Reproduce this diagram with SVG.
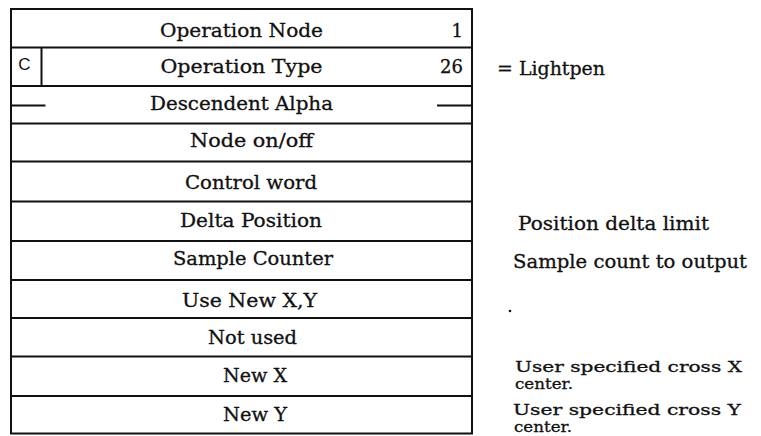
<svg xmlns="http://www.w3.org/2000/svg" width="761" height="436" viewBox="0 0 761 436">
<style>
.t{font-family:"DejaVu Serif","Liberation Serif",serif;font-size:18px;fill:#111;stroke:#111;stroke-width:0.3;}
.s{font-size:15px;}
.c{text-anchor:middle;}
.r{text-anchor:end;}
.ln{stroke:#111;stroke-width:2;fill:none;}
</style>
<rect width="761" height="436" fill="#fff"/>
<g id="frame">
<rect class="ln" x="11" y="9" width="461" height="424.5"/>
</g>
<g id="connectors">
<line class="ln" x1="11" y1="47.5" x2="472" y2="47.5"/>
<line class="ln" x1="11" y1="86" x2="472" y2="86"/>
<line class="ln" x1="11" y1="123.5" x2="472" y2="123.5"/>
<line class="ln" x1="11" y1="161.5" x2="472" y2="161.5"/>
<line class="ln" x1="11" y1="201.5" x2="472" y2="201.5"/>
<line class="ln" x1="11" y1="241" x2="472" y2="241"/>
<line class="ln" x1="11" y1="280" x2="472" y2="280"/>
<line class="ln" x1="11" y1="318" x2="472" y2="318"/>
<line class="ln" x1="11" y1="356.5" x2="472" y2="356.5"/>
<line class="ln" x1="11" y1="396" x2="472" y2="396"/>
</g>
<g id="row-operation-node">
<text class="t c" x="241.5" y="36.5" textLength="163" lengthAdjust="spacingAndGlyphs">Operation Node</text>
<text class="t r" x="463" y="36.5">1</text>
</g>
<g id="row-operation-type">
<line class="ln" x1="41.5" y1="47.5" x2="41.5" y2="86"/>
<text x="24.5" y="70" text-anchor="middle" font-family="Liberation Sans,Arial,sans-serif" font-size="17" fill="#111">C</text>
<text class="t c" x="241.5" y="73" textLength="162" lengthAdjust="spacingAndGlyphs">Operation Type</text>
<text class="t r" x="463" y="73">26</text>
</g>
<g id="row-descendent-alpha">
<line class="ln" x1="11" y1="105.5" x2="45.5" y2="105.5"/>
<line class="ln" x1="437" y1="105.5" x2="472" y2="105.5"/>
<text class="t c" x="241.5" y="110" textLength="183" lengthAdjust="spacingAndGlyphs">Descendent Alpha</text>
</g>
<g id="row-node-onoff">
<text class="t c" x="251.5" y="147" textLength="123" lengthAdjust="spacingAndGlyphs">Node on/off</text>
</g>
<g id="row-control-word">
<text class="t c" x="251" y="188.5" textLength="132" lengthAdjust="spacingAndGlyphs">Control word</text>
</g>
<g id="row-delta-position">
<text class="t c" x="251" y="227" textLength="142" lengthAdjust="spacingAndGlyphs">Delta Position</text>
</g>
<g id="row-sample-counter">
<text class="t c" x="253" y="265" textLength="160" lengthAdjust="spacingAndGlyphs">Sample Counter</text>
</g>
<g id="row-use-new-xy">
<text class="t c" x="249.5" y="306.5" textLength="135" lengthAdjust="spacingAndGlyphs">Use New X,Y</text>
</g>
<g id="row-not-used">
<text class="t c" x="252.5" y="344" textLength="89" lengthAdjust="spacingAndGlyphs">Not used</text>
</g>
<g id="row-new-x">
<text class="t c" x="255" y="381.5" textLength="64" lengthAdjust="spacingAndGlyphs">New X</text>
</g>
<g id="row-new-y">
<text class="t c" x="255" y="421" textLength="64" lengthAdjust="spacingAndGlyphs">New Y</text>
</g>
<g id="annotations">
<text class="t" x="497" y="75" textLength="108" lengthAdjust="spacingAndGlyphs">= Lightpen</text>
<text class="t" x="518" y="230" textLength="191" lengthAdjust="spacingAndGlyphs">Position delta limit</text>
<text class="t" x="513" y="268" textLength="234" lengthAdjust="spacingAndGlyphs">Sample count to output</text>
<circle cx="510" cy="311" r="1.3" fill="#111"/>
<text class="t s" x="515" y="372" textLength="227" lengthAdjust="spacingAndGlyphs">User specified cross X</text>
<text class="t s" x="515" y="389" textLength="58" lengthAdjust="spacingAndGlyphs">center.</text>
<text class="t s" x="513" y="415" textLength="228" lengthAdjust="spacingAndGlyphs">User specified cross Y</text>
<text class="t s" x="514" y="432" textLength="58" lengthAdjust="spacingAndGlyphs">center.</text>
</g>
</svg>
